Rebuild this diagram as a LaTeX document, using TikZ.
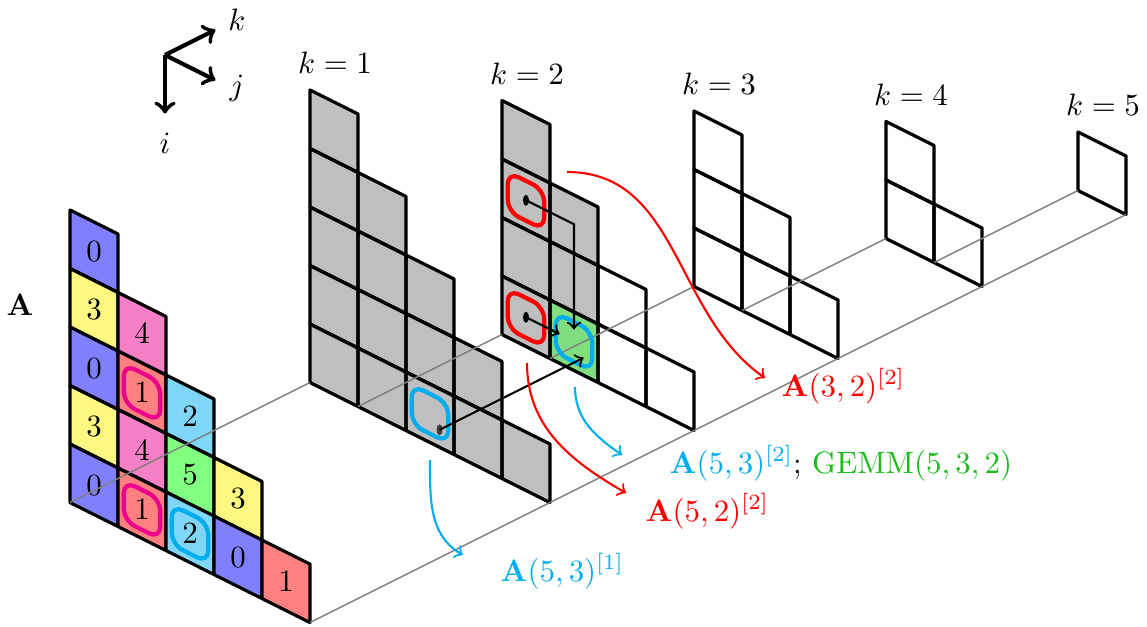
\documentclass[tikz,border=0pt]{standalone}
\usepackage{amsmath}
\usepackage{amssymb}
\usepackage{tikz}
\usetikzlibrary{calc}
\definecolor{cmykcyan}{RGB}{0,174,239}
\definecolor{cmykmagenta}{RGB}{236,0,140}
\definecolor{gemmgreen}{RGB}{25,188,25}
\definecolor{gemmfill}{RGB}{128,222,128}
\tikzstyle{cell}=[draw, line width=0.9pt, line join=round]
\tikzstyle{rail}=[gray, line width=0.4pt]
\tikzstyle{hilite}=[very thick, rounded corners=3.5pt]
\tikzstyle{axis}=[very thick, ->]
\tikzstyle{pointer}=[semithick, ->]
\tikzstyle{callout}=[semithick, ->]

\begin{document}
\begin{tikzpicture}[x={(0.48cm,-0.24cm)}, y={(0cm,-0.585cm)}, z={(0.48cm,0.24cm)},
    every node/.style={scale=0.88}]
    \useasboundingbox (-0.70cm,-4.16cm) rectangle (10.77cm,2.10cm);

    % axes
    \coordinate (O) at (0.95cm,1.55cm);
    \draw[axis] (O) -- ++(0,0,1.05);
    \draw[axis] (O) -- ++(1.05,0,0);
    \draw[axis] (O) -- ++(0,1,0);
    \node (klab) at (1.67cm,1.90cm) {$k$};
    \node (jlab) at (1.67cm,1.22cm) {$j$};
    \node (ilab) at (0.95cm,0.67cm) {$i$};

    % the matrix A
    \node (Alabel) at (-0.50cm,-0.95cm) {$\mathbf{A}$};
    \foreach \a/\b/\v/\col in {0/0/0/blue, 0/1/3/yellow, 1/1/4/cmykmagenta,
        0/2/0/blue, 1/2/1/red, 2/2/2/cmykcyan,
        0/3/3/yellow, 1/3/4/cmykmagenta, 2/3/5/green, 3/3/3/yellow,
        0/4/0/blue, 1/4/1/red, 2/4/2/cmykcyan, 3/4/0/blue, 4/4/1/red} {
        \filldraw[cell, fill=\col!50] (\a,\b,0) -- ++(1,0,0) -- ++(0,1,0) -- ++(-1,0,0) -- cycle;
        \node (A\b\a) at (\a+0.5,\b+0.5,0) {$\v$};
    }

    % shaded cells of the slices
    \foreach \a in {0,...,4}
        \foreach \b in {\a,...,4}
            \fill[lightgray] (\a,\b,5) -- ++(1,0,0) -- ++(0,1,0) -- ++(-1,0,0) -- cycle;
    \foreach \a/\b in {1/1, 1/2, 1/3, 1/4, 2/2, 2/3}
        \fill[lightgray] (\a,\b,8) -- ++(1,0,0) -- ++(0,1,0) -- ++(-1,0,0) -- cycle;
    \fill[gemmfill] (2,4,8) -- ++(1,0,0) -- ++(0,1,0) -- ++(-1,0,0) -- cycle;

    % slices k = 1..5
    \foreach \k in {1,...,5} {
        \pgfmathtruncatemacro{\kc}{3*\k+2}
        \pgfmathtruncatemacro{\ks}{\k-1}
        \foreach \a in {\ks,...,4}
            \foreach \b in {\a,...,4}
                \draw[cell] (\a,\b,\kc) -- ++(1,0,0) -- ++(0,1,0) -- ++(-1,0,0) -- cycle;
        \node (k\k) at ($(\ks,\ks,\kc)+(0.25cm,0.27cm)$) {$k=\k$};
    }

    % rails
    \draw[rail] (0,5,0) -- (0,5,5);
    \foreach \a in {1,...,4}
        \draw[rail] (\a,5,3*\a+2) -- (\a,5,3*\a+5);
    \draw[rail] (5,5,0) -- (5,5,17);

    % highlighted entries
    \foreach \a/\b/\c/\col in {1/2/0/cmykmagenta, 1/4/0/cmykmagenta, 2/4/0/cmykcyan,
        2/4/5/cmykcyan, 1/2/8/red, 1/4/8/red, 2/4/8/cmykcyan}
        \draw[hilite, \col] (\a+0.12,\b+0.17,\c) -- (\a+0.88,\b+0.17,\c)
            -- (\a+0.88,\b+0.85,\c) -- (\a+0.12,\b+0.85,\c) -- cycle;

    % dependencies
    \coordinate (r32) at (1.5,2.5,8);
    \coordinate (r52) at (1.5,4.5,8);
    \coordinate (turn) at (2.5,2.5,8);
    \coordinate (g53top) at (2.5,4.3,8);
    \coordinate (g53left) at (2.2,4.5,8);
    \coordinate (b53) at (2.7,4.7,5);
    \coordinate (g53) at (2.7,4.7,8);
    \fill (r32) ellipse [x radius=0.03cm, y radius=0.055cm];
    \fill (r52) ellipse [x radius=0.03cm, y radius=0.055cm];
    \fill[black!75] (b53) ellipse [x radius=0.03cm, y radius=0.055cm];
    \draw[pointer] (r32) -- (turn) -- (g53top);
    \draw[pointer] (r52) -- (g53left);
    \draw[pointer] (b53) -- (g53);

    % callouts
    \node[red, anchor=base west, inner sep=0] (l32) at (7.11cm,-1.86cm) {$\mathbf{A}(3,2)^{[2]}$};
    \node[red, anchor=base west, inner sep=0] (l52) at (5.75cm,-3.11cm) {$\mathbf{A}(5,2)^{[2]}$};
    \node[anchor=base west, inner sep=0] (l53b) at (5.99cm,-2.63cm)
        {{\color{cmykcyan}$\mathbf{A}(5,3)^{[2]}$}; {\color{gemmgreen}GEMM$(5,3,2)$}};
    \node[cmykcyan, anchor=base west, inner sep=0] (l53a) at (4.30cm,-3.71cm) {$\mathbf{A}(5,3)^{[1]}$};
    \coordinate (s32) at (4.97cm,0.38cm);
    \coordinate (e32) at (6.95cm,-1.68cm);
    \coordinate (s52) at (4.57cm,-1.53cm);
    \coordinate (e52) at (5.56cm,-2.83cm);
    \coordinate (s53b) at (5.05cm,-1.77cm);
    \coordinate (e53b) at (5.52cm,-2.45cm);
    \coordinate (s53a) at (3.60cm,-2.50cm);
    \coordinate (e53a) at (3.93cm,-3.45cm);
    \draw[callout, red] (s32) to[out=0, in=145] (e32);
    \draw[callout, red] (s52) to[out=-90, in=150] (e52);
    \draw[callout, cmykcyan] (s53b) to[out=-90, in=145] (e53b);
    \draw[callout, cmykcyan] (s53a) to[out=-90, in=150] (e53a);
\end{tikzpicture}
\end{document}
